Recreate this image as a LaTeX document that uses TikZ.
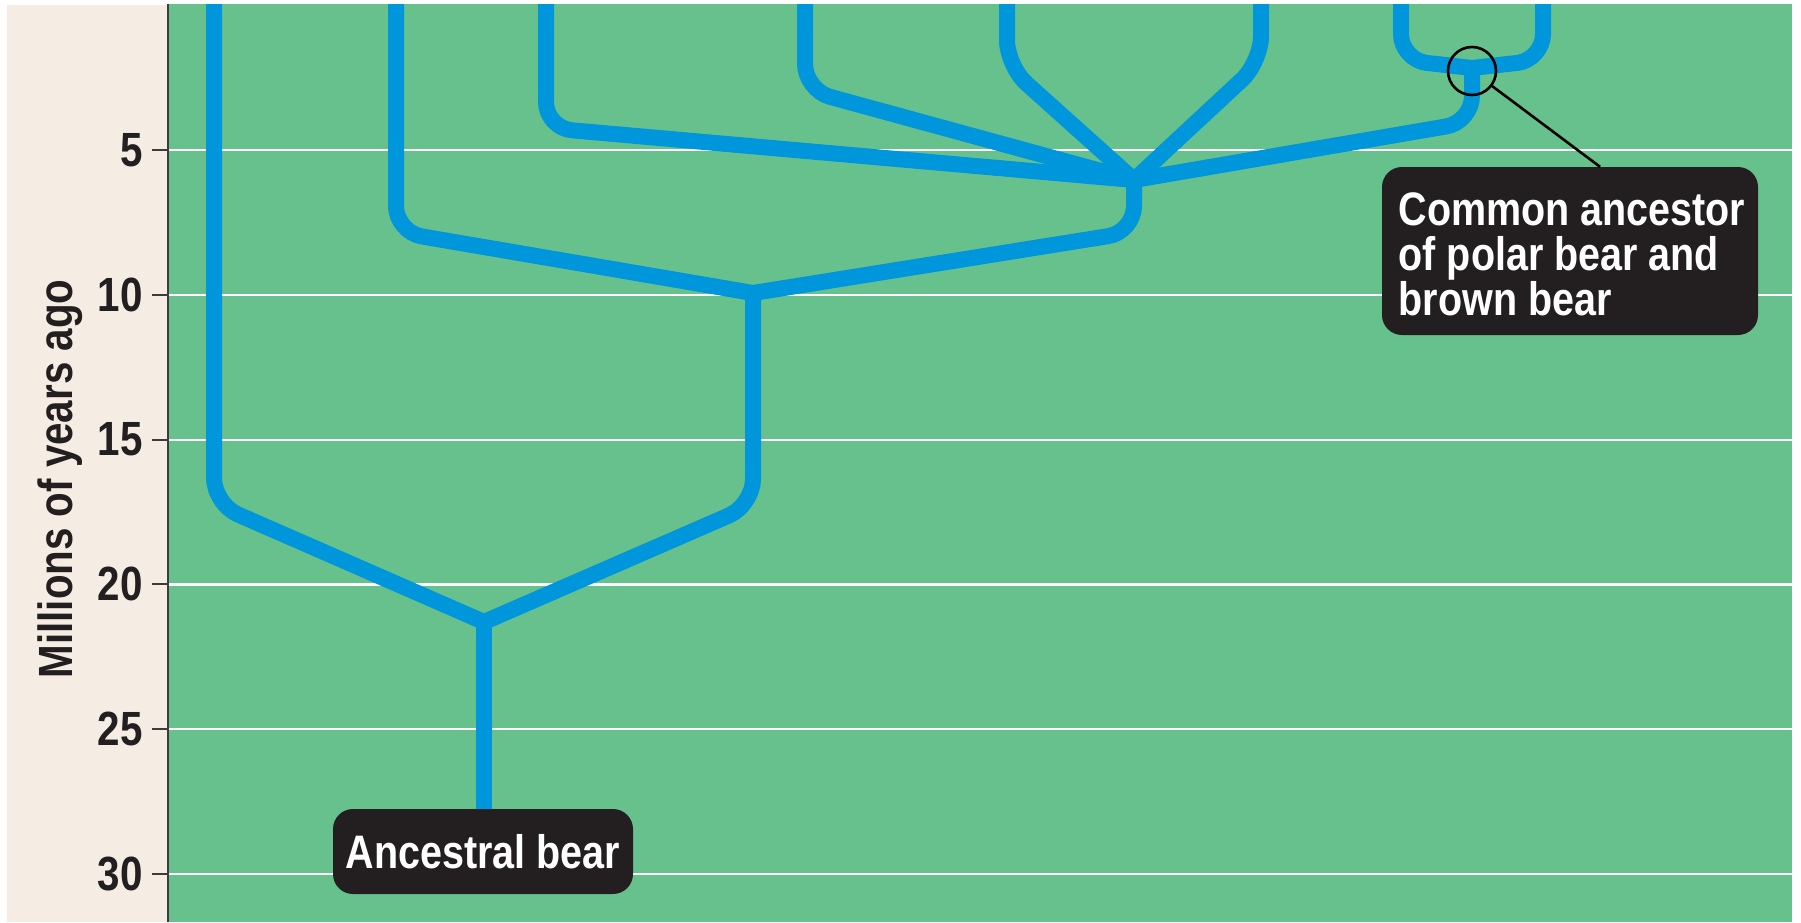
\documentclass[tikz,border=0pt]{standalone}
\usepackage{fontspec}
\usepackage{xcolor}
\newfontfamily\condfont[FakeStretch=0.84]{Liberation Sans}
\definecolor{panelgreen}{RGB}{103,193,141}
\definecolor{axisbeige}{RGB}{245,236,228}
\definecolor{branchblue}{RGB}{0,150,219}
\definecolor{boxblack}{RGB}{35,31,32}
\definecolor{axisdark}{RGB}{60,60,60}
\tikzset{
  branch/.style={line width=16pt,branchblue,rounded corners=26pt,line cap=round},
  gridrule/.style={white,line width=2.2pt},
  axtick/.style={axisdark,line width=2pt},
  labelbox/.style={fill=boxblack,rounded corners=20pt,text=white,inner sep=0pt,
    font=\condfont\bfseries\fontsize{47}{45}\selectfont},
  axlabel/.style={text=boxblack,inner sep=0pt,font=\condfont\bfseries\fontsize{48}{48}\selectfont},
  leader/.style={black,line width=2.6pt}
}
\begin{document}
\begin{tikzpicture}[x=1pt,y=-1pt]
\useasboundingbox (0,0) rectangle (1801,922);
% background
\fill[axisbeige] (7,5) rectangle (169,922);
\fill[panelgreen] (169,4) rectangle (1792,922);
% time axis
\foreach \m in {5,10,...,30}{
  \pgfmathsetmacro\yy{5.2+28.96*\m}
  \draw[gridrule] (169,\yy) -- (1792,\yy);
  \draw[axtick] (152,\yy) -- (169,\yy);
  \node[axlabel,anchor=east] (lab\m) at (143,\yy) {\m};
}
\draw[axisdark,line width=2pt] (168,4) -- (168,922);
\node[axlabel,rotate=90,anchor=base] (ytitle) at (72,479) {Millions of years ago};
% labels
\node[labelbox,minimum width=300pt,minimum height=85pt] (anc) at (483,851.5) {Ancestral bear};
\node[labelbox,minimum width=376pt,minimum height=168pt] (cabbox) at (1570,251) {};
\node[labelbox,fill=none,align=left] (cab) at (1572,254) {Common ancestor\\of polar bear and\\brown bear};
% tree
\coordinate (root) at (484,622);
\coordinate (n10) at (753,293);
\coordinate (hub) at (1134,180);
\coordinate (pb) at (1472,68);
\foreach \n/\x in {1/214,2/396,3/546,4/805,5/1007,6/1261,7/1401,8/1543}
  \coordinate (t\n) at (\x,-10);
\coordinate (c1) at (214,504);
\coordinate (c2) at (753,505);
\coordinate (c3) at (396,232);
\coordinate (c4) at (1134,232);
\coordinate (c5) at (546,128);
\coordinate (c6) at (805,90);
\coordinate (c7) at (1007,66);
\coordinate (c8) at (1261,62);
\coordinate (c9) at (1472,122);
\coordinate (c10) at (1401,60);
\coordinate (c11) at (1543,60);
\begin{scope}
\clip (169,4) rectangle (1792,922);
\draw[branch] (t1) -- (c1) -- (root);
\draw[branch] (root) -- (c2) -- (n10);
\draw[branch] (t2) -- (c3) -- (n10);
\draw[branch] (n10) -- (c4) -- (hub);
\draw[branch] (t3) -- (c5) -- (hub);
\draw[branch] (t4) -- (c6) -- (hub);
\draw[branch] (t5) -- (c7) -- (hub);
\draw[branch] (t6) -- (c8) -- (hub);
\draw[branch] (hub) -- (c9) -- (pb);
\draw[branch] (t7) -- (c10) -- (pb);
\draw[branch] (t8) -- (c11) -- (pb);
\draw[branch,line cap=butt] (root) -- (root |- anc.north);
\end{scope}
% callout
\node[draw=black,circle,line width=2.6pt,minimum size=48pt,inner sep=0pt] (ring) at (1472,71) {};
\draw[leader] (ring) -- ([xshift=30pt]cabbox.north);
\end{tikzpicture}
\end{document}
